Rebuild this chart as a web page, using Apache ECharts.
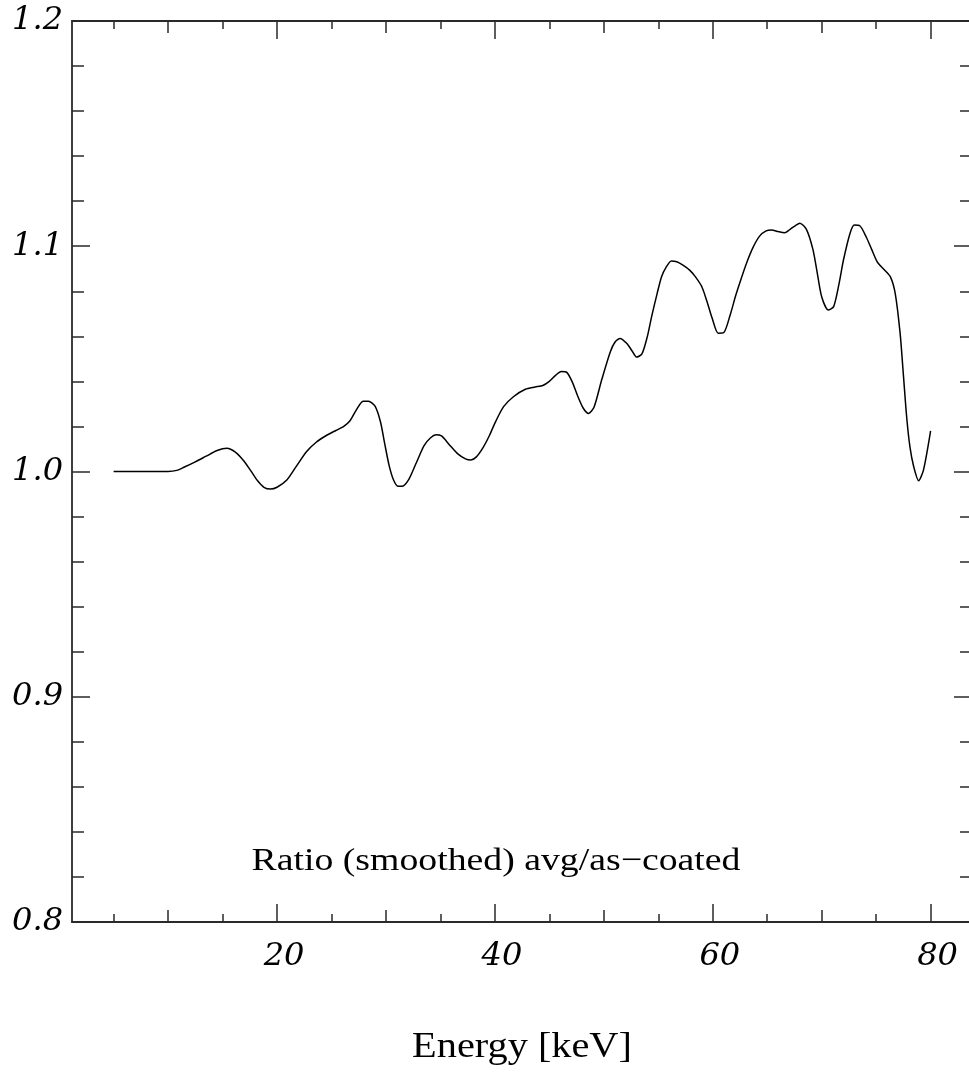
<!DOCTYPE html>
<html>
<head>
<meta charset="utf-8">
<title>Ratio (smoothed) avg/as-coated</title>
<script src="https://cdn.jsdelivr.net/npm/echarts@6/dist/echarts.min.js"></script>
<style>
  html, body { margin: 0; padding: 0; background: #fff; }
  #chart { width: 969px; height: 1072px; }
</style>
</head>
<body>
<div id="chart"></div>
<script>
// Smoothed ratio of averaged response to as-coated response, vs photon energy
const energy = [
  5.0, 6.0, 7.0, 8.0, 9.0, 10.0, 10.8, 11.5, 12.5, 13.5, 14.5, 15.4, 16.2, 16.9,
  17.6, 18.2, 18.8, 19.4, 20.0, 20.9, 21.8, 22.7, 23.6, 24.6, 25.4, 26.1, 26.7,
  27.3, 27.9, 28.4, 29.0, 29.5, 29.9, 30.3, 30.7, 31.1, 31.5, 32.1, 32.8, 33.5,
  34.1, 34.6, 35.1, 35.8, 36.6, 37.3, 37.8, 38.3, 38.9, 39.5, 40.1, 40.8, 41.7,
  42.8, 43.7, 44.4, 45.0, 45.6, 46.1, 46.6, 47.1, 47.6, 48.1, 48.6, 49.1, 49.8,
  50.6, 51.05, 51.5, 52.1, 52.6, 53.0, 53.5, 54.0, 54.4, 54.9, 55.3, 55.7, 56.2,
  56.7, 57.3, 57.9, 58.4, 59.0, 59.5, 59.95, 60.5, 61.0, 61.6, 62.1, 62.6, 63.1,
  63.7, 64.3, 64.9, 65.4, 66.0, 66.6, 67.1, 67.6, 68.0, 68.6, 69.2, 69.6, 70.0,
  70.6, 71.1, 71.6, 72.0, 72.6, 73.0, 73.5, 74.1, 74.6, 75.1, 75.7, 76.3, 76.75,
  77.2, 77.5, 77.8, 78.1, 78.45, 78.9, 79.35, 80.0
];
const ratio = [
  1.0000, 1.0000, 1.0000, 1.0000, 1.0000, 1.0000, 1.0005, 1.0020, 1.0043, 1.0068, 1.0093, 1.0103, 1.0085, 1.0050,
  1.0003, 0.9960, 0.9930, 0.9922, 0.9930, 0.9962, 1.0025, 1.0088, 1.0130, 1.0162, 1.0182, 1.0199, 1.0225,
  1.0275, 1.0312, 1.0312, 1.0290, 1.0220, 1.0120, 1.0025, 0.9962, 0.9935, 0.9935, 0.9965, 1.0040, 1.0115,
  1.0150, 1.0163, 1.0158, 1.0120, 1.0078, 1.0056, 1.0051, 1.0065, 1.0105, 1.0160, 1.0225, 1.0288, 1.0332,
  1.0365, 1.0375, 1.0382, 1.0400, 1.0428, 1.0444, 1.0440, 1.0398, 1.0335, 1.0282, 1.0258, 1.0285, 1.0406,
  1.0532, 1.0576, 1.0591, 1.0569, 1.0535, 1.0508, 1.0522, 1.0600, 1.0690, 1.0791, 1.0865, 1.0905, 1.0935,
  1.0931, 1.0915, 1.0893, 1.0865, 1.0820, 1.0750, 1.0680, 1.0614, 1.0616, 1.0695, 1.0780, 1.0855, 1.0925,
  1.0995, 1.1045, 1.1068, 1.1072, 1.1065, 1.1060, 1.1075, 1.1092, 1.1102, 1.1075, 1.0985, 1.0880, 1.0776,
  1.0717, 1.0732, 1.0835, 1.0939, 1.1057, 1.1094, 1.1091, 1.1040, 1.0985, 1.0931, 1.0898, 1.0865, 1.0791,
  1.0614, 1.0430, 1.0243, 1.0110, 1.0021, 0.9959, 1.0007, 1.0180
];

// Tick positions
const xMajorTicks = [20, 40, 60, 80];
const xMidTicks = [10, 30, 50, 70];
const xMinorTicks = [5, 15, 25, 35, 45, 55, 65, 75];
const yMajorTicks = [0.8, 0.9, 1.0, 1.1, 1.2];
const yMinorTicks = [0.82, 0.84, 0.86, 0.88, 0.92, 0.94, 0.96, 0.98,
                     1.02, 1.04, 1.06, 1.08, 1.12, 1.14, 1.16, 1.18];

const xRange = [1.18, 83.8];
const yRange = [0.8, 1.2];

const axisColor = '#2a2a2a';
const tickFont = { fontFamily: 'DejaVu Serif', fontStyle: 'italic', fontWeight: 500, fontSize: 32, color: '#000' };

function xAxisDef(position, ticks, len, showLine, labels) {
  return {
    type: 'value', min: xRange[0], max: xRange[1], position: position,
    axisLine: { show: showLine, onZero: false, lineStyle: { color: axisColor, width: 1.8 } },
    axisTick: { show: true, inside: true, length: len, customValues: ticks,
                lineStyle: { color: axisColor, width: 1.5 } },
    axisLabel: labels ? Object.assign({ show: true, customValues: ticks, margin: 19,
                padding: [0, 0, 0, 14], formatter: v => String(Math.round(v)) }, tickFont)
                      : { show: false },
    splitLine: { show: false }
  };
}

function yAxisDef(position, ticks, len, showLine, labels) {
  return {
    type: 'value', min: yRange[0], max: yRange[1], position: position,
    axisLine: { show: showLine, onZero: false, lineStyle: { color: axisColor, width: 1.8 } },
    axisTick: { show: true, inside: true, length: len, customValues: ticks,
                lineStyle: { color: axisColor, width: 1.5 } },
    axisLabel: labels ? Object.assign({ show: true, customValues: ticks, margin: 9,
                padding: [4, 0, 0, 0], formatter: v => v.toFixed(1) }, tickFont)
                      : { show: false },
    splitLine: { show: false }
  };
}

const chart = echarts.init(document.getElementById('chart'), null, { renderer: 'canvas' });

chart.setOption({
  animation: false,
  backgroundColor: '#fff',
  grid: { left: 72, top: 21, width: 900, height: 901, containLabel: false, outerBoundsMode: 'none' },
  xAxis: [
    xAxisDef('bottom', xMajorTicks, 18, true, true),
    xAxisDef('bottom', xMidTicks, 12, false, false),
    xAxisDef('bottom', xMinorTicks, 8, false, false),
    xAxisDef('top', xMajorTicks, 18, true, false),
    xAxisDef('top', xMidTicks, 12, false, false),
    xAxisDef('top', xMinorTicks, 8, false, false)
  ],
  yAxis: [
    yAxisDef('left', yMajorTicks, 18, true, true),
    yAxisDef('left', yMinorTicks, 12, false, false),
    yAxisDef('right', yMajorTicks, 18, true, false),
    yAxisDef('right', yMinorTicks, 12, false, false)
  ],
  series: [{
    type: 'line',
    xAxisIndex: 0,
    yAxisIndex: 0,
    data: energy.map((e, i) => [e, ratio[i]]),
    showSymbol: false,
    smooth: 0.25,
    lineStyle: { color: '#000', width: 1.5 }
  }],
  graphic: [
    {
      type: 'text', x: 496, y: 862, scaleX: 1.18, silent: true,
      style: {
        text: 'Ratio (smoothed) avg/as\u2212coated',
        x: 0, y: 0, align: 'center', verticalAlign: 'middle',
        fontFamily: 'Liberation Serif', fontSize: 32, fill: '#000'
      }
    },
    {
      type: 'text', x: 522, y: 1048, scaleX: 1.12, silent: true,
      style: {
        text: 'Energy [keV]',
        x: 0, y: 0, align: 'center', verticalAlign: 'middle',
        fontFamily: 'Liberation Serif', fontSize: 36, fill: '#000'
      }
    }
  ]
});
</script>
</body>
</html>
